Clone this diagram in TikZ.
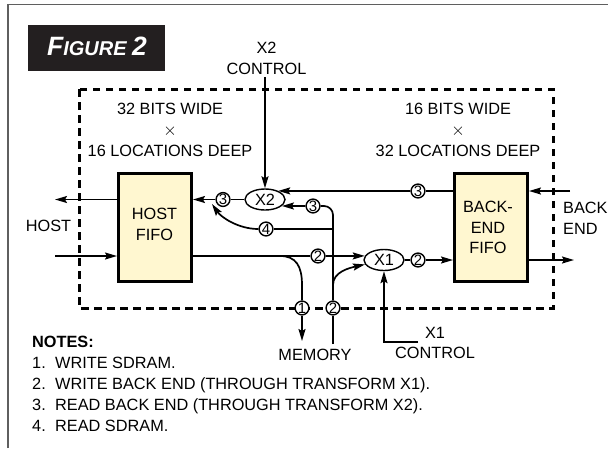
\documentclass[tikz,border=0pt]{standalone}
\usepackage{fontspec}
\setmainfont{Liberation Sans}
\usetikzlibrary{arrows.meta,shapes.geometric}
\definecolor{fifofill}{RGB}{255,247,208}
\definecolor{figbg}{RGB}{35,31,32}
\definecolor{framegray}{RGB}{95,95,95}
\newcommand\lblfont{\fontsize{16.3}{20.8}\selectfont}
\newcommand\numfont{\fontsize{15}{15}\selectfont}
\newcommand\bigtimes{{\fontsize{19}{20.8}\selectfont$\times$}}

\begin{document}
\begin{tikzpicture}[x=1pt,y=-1pt,
  wire/.style={line width=1.7pt},
  arr/.style={wire,-{Stealth[length=12pt,width=7pt,inset=2pt]}},
  fifo/.style={draw,line width=3pt,fill=fifofill,minimum width=73pt,minimum height=108pt,inner sep=0pt},
  num/.style={draw,circle,line width=1.4pt,fill=white,minimum size=13.8pt,inner sep=0pt,font=\numfont},
  xform/.style={draw,ellipse,line width=1.4pt,fill=white,minimum width=40pt,minimum height=21pt,inner sep=0pt,font=\lblfont},
  lbl/.style={font=\lblfont,align=center,inner sep=0pt},
  boundary/.style={line width=3pt,dash pattern=on 7.5pt off 5.5pt}
]
\useasboundingbox (0,0) rectangle (608,448);
% page frame, open to the right and bottom
\draw[framegray,line width=1.8pt] (8,448) -- (8,4.5) -- (608,4.5);

% title tab
\fill[figbg] (28,25) rectangle (165,71);
\node[anchor=base,inner sep=0pt,text=white,font=\bfseries\itshape] (title) at (97,55)
  {\fontsize{26.5}{26.5}\selectfont F\fontsize{20}{20}\selectfont IGURE \fontsize{26.5}{26.5}\selectfont 2};

% chip boundary
\draw[boundary] (79,89) rectangle (553,308);

% FIFOs
\node[fifo] (host) at (155,227) {};
\node[fifo] (be) at (491,227.5) {};
\node[lbl] (hostlbl) at (154.5,224) {HOST\\FIFO};
\node[lbl] (belbl) at (488,227.5) {BACK-\\END\\FIFO};

% size annotations
\node[lbl] (hostsize) at (170,130) {32 BITS WIDE\\\bigtimes\\16 LOCATIONS DEEP};
\node[lbl] (besize) at (458,130) {16 BITS WIDE\\\bigtimes\\32 LOCATIONS DEEP};

% transforms
\node[xform] (x2) at (265,199.5) {X2};
\node[xform] (x1) at (384,260) {X1};

% path markers
\node[num] (c3L) at (223,199.5) {3};
\node[num] (c3T) at (418,191) {3};
\node[num] (c3M) at (313,206) {3};
\node[num] (c4) at (266,229) {4};
\node[num] (c2T) at (318,256) {2};
\node[num] (c2R) at (418,260) {2};
\node[num] (c1) at (302,308) {1};
\node[num] (c2B) at (333,308) {2};

% outside labels
\node[lbl] (x2ctl) at (266.5,58.5) {X2\\CONTROL};
\node[lbl] (x1ctl) at (435,343) {X1\\CONTROL};
\node[lbl] (mem) at (315,355) {MEMORY};
\node[lbl] (hostname) at (48.5,226) {HOST};
\node[lbl,anchor=west,align=left] (bename) at (563,218) {BACK\\END};

% notes
\node[lbl,anchor=north west,align=left,font=\fontsize{16.3}{21}\selectfont] (notes) at (32,336)
  {\textbf{NOTES:}\\
   \makebox[23pt][l]{1.}WRITE SDRAM.\\
   \makebox[23pt][l]{2.}WRITE BACK END (THROUGH TRANSFORM X1).\\
   \makebox[23pt][l]{3.}READ BACK END (THROUGH TRANSFORM X2).\\
   \makebox[23pt][l]{4.}READ SDRAM.};

% free ends and junctions
\coordinate (hostOut) at (55,199.5);
\coordinate (hostIn) at (55,256);
\coordinate (beIn) at (570,191);
\coordinate (beOut) at (574,260);
\coordinate (memTip) at (302,341);
\coordinate (memEnd) at (333,344);
\coordinate (x1ctlEnd) at (418,342);
\coordinate (tap) at (280,256);
\coordinate (fork) at (333,285);
\coordinate (tee) at (333,229);
\coordinate (j4) at (212,204);

% host side
\draw[arr] (host.west |- hostOut) -- (hostOut);
\draw[arr] (hostIn) -- (host.west |- hostIn);
% back-end side
\draw[arr] (beIn) -- (be.east |- beIn);
\draw[arr] (be.east |- beOut) -- (beOut);

% X2 control and read paths
\draw[arr,shorten <=2pt] (x2.north |- x2ctl.south) -- (x2.north);
\draw[wire] (x2.west) -- (c3L.east);
\draw[arr] (c3L.west) -- (host.east |- c3L);
\draw[wire] (be.west |- c3T) -- (c3T.east);
\draw[arr] (c3T.west) -- (x2.33);
\draw[arr] (c3M.west) -- (x2.-21);
\draw[wire] (memEnd) -- (c2B.south);
\draw[wire,rounded corners=9pt] (c2B.north) |- (c3M.east);
\draw[wire] (tee) -- (c4.east);
\draw[arr] (c4.west) .. controls (238,229) and (221,217) .. (j4);

% write paths
\draw[wire] (host.east |- c2T) -- (c2T.west);
\draw[arr] (c2T.east) -- (x1.168);
\draw[wire] (tap) .. controls (296,256) and (302,266) .. (302,285) -- (c1.north);
\draw[arr] (c1.south) -- (memTip);
\draw[arr] (fork) .. controls (333,272) and (349,268) .. (x1.193);
\draw[wire] (x1.east) -- (c2R.west);
\draw[arr] (c2R.east) -- (be.west |- c2R);
\draw[arr] (x1ctlEnd) -| (x1.south);
\end{tikzpicture}
\end{document}
